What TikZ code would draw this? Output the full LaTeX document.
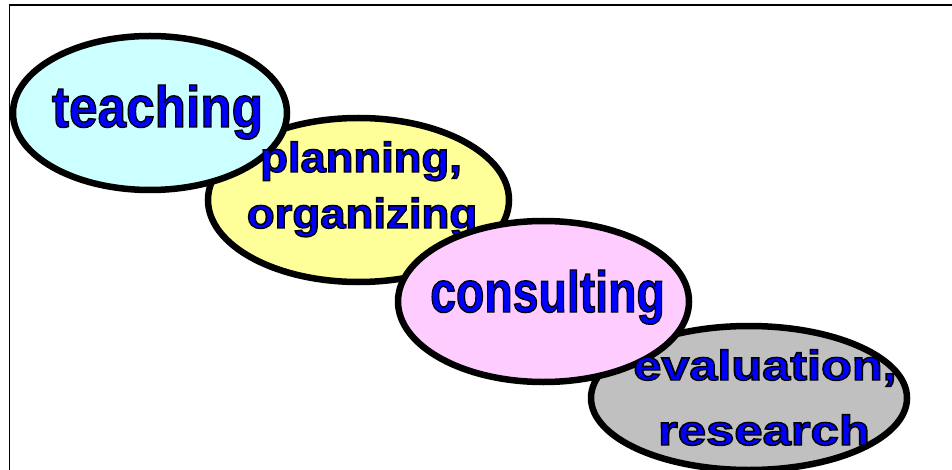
\documentclass[tikz,border=0pt]{standalone}
\usepackage{fontspec}
\setmainfont{Liberation Sans}
\usetikzlibrary{shapes.geometric}
\definecolor{cteach}{HTML}{CCFFFF}
\definecolor{cplan}{HTML}{FFFF99}
\definecolor{ccons}{HTML}{FFCCFF}
\definecolor{ceval}{HTML}{C0C0C0}
\newcommand\wart[2]{\scalebox{#1}[1]{\special{pdf:literal direct 0 0 0 RG 1.4 w 2 Tr}#2\special{pdf:literal direct 0 Tr}}}
\begin{document}
\begin{tikzpicture}[x=1pt,y=-1pt,
  blob/.style={ellipse, draw=black, line width=6.5pt, inner sep=0pt},
  lbl/.style={inner sep=0pt, anchor=base, text=blue, font=\bfseries\fontsize{42}{44}\selectfont},
  biglbl/.style={lbl, font=\bfseries\fontsize{58}{60}\selectfont}]
\useasboundingbox (0,0) rectangle (952,470);
\fill[white] (0,0) rectangle (952,470);
\draw[line width=1.6pt] (9.5,470) -- (9.5,5) -- (952,5);
% ellipses and texts in stacking order
\node[blob, fill=cplan, minimum width=301pt, minimum height=164pt] (plan) at (358.5,200) {};
\node[blob, fill=cteach, minimum width=274pt, minimum height=154pt] (teach) at (150,113) {};
\node[biglbl] (teachT) at (157.5,127) {\wart{0.885}{teaching}};
\node[lbl] (planT1) at (361,172) {\wart{1.08}{planning,}};
\node[lbl] (planT2) at (362,228) {\wart{1.085}{organizing}};
\node[blob, fill=ceval, minimum width=316pt, minimum height=144pt] (eval) at (749,398) {};
\node[blob, fill=ccons, minimum width=291pt, minimum height=161pt] (cons) at (543.5,301.5) {};
\node[biglbl] (consT) at (547.5,312) {\wart{0.80}{consulting}};
\node[lbl] (evalT1) at (765,380) {\wart{1.2}{evaluation,}};
\node[lbl] (evalT2) at (764,445) {\wart{1.21}{research}};
\end{tikzpicture}
\end{document}
